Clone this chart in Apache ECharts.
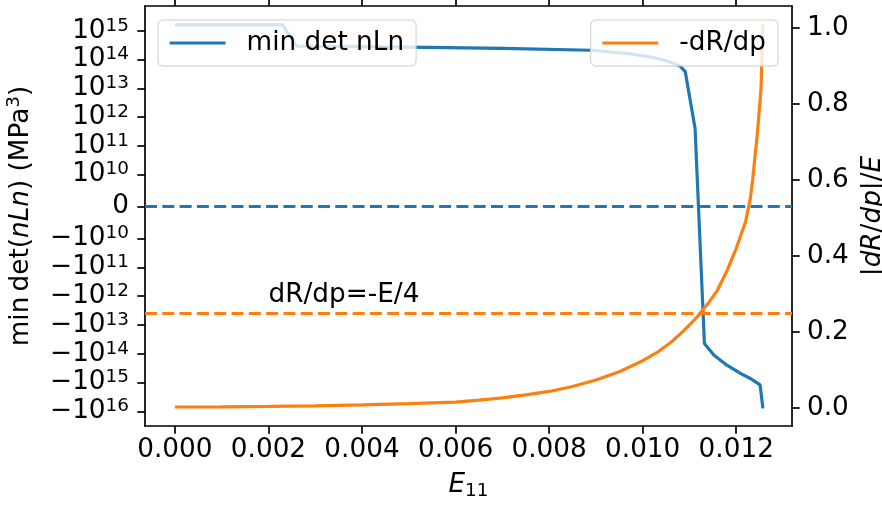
<!DOCTYPE html>
<html>
<head>
<meta charset="utf-8">
<script src="https://cdn.jsdelivr.net/npm/echarts@6/dist/echarts.min.js"></script>
<style>html,body{margin:0;padding:0;background:#fff;}#c{width:882px;height:507px;}</style>
</head>
<body>
<div id="c"></div>
<script>
// ---- data ----
const blueE = [0, 0.0023, 0.0026, 0.0050, 0.0070, 0.0089, 0.0097, 0.0102, 0.01045, 0.0108, 0.01091, 0.01112, 0.01132, 0.01152, 0.0118, 0.01209, 0.0123, 0.01251, 0.01257];
const blueVals = [1.6e15, 1.6e15, 2.9e14, 2.7e14, 2.45e14, 2.1e14, 1.6e14, 1.2e14, 9.6e13, 5.9e13, 3.8e13, 4.1e11, -4.4e13, -1.1e14, -2.5e14, -4.8e14, -7.2e14, -1.2e15, -7.9e15];
const orangeE = [0, 0.001, 0.002, 0.003, 0.004, 0.005, 0.0055, 0.006, 0.0065, 0.007, 0.0075, 0.008, 0.0085, 0.009, 0.0095, 0.010, 0.0103, 0.0106, 0.0108, 0.011, 0.0112, 0.0114, 0.0116, 0.0118, 0.012, 0.0122, 0.0123, 0.01235, 0.01245, 0.01253, 0.01257];
const orangeVals = [0.002, 0.0025, 0.0035, 0.005, 0.0075, 0.011, 0.013, 0.015, 0.020, 0.026, 0.034, 0.043, 0.056, 0.073, 0.095, 0.124, 0.145, 0.172, 0.194, 0.218, 0.244, 0.275, 0.31, 0.36, 0.42, 0.49, 0.55, 0.60, 0.72, 0.84, 1.01];
const xTicks = [0, 0.002, 0.004, 0.006, 0.008, 0.010, 0.012];
const leftTicks = [1e15, 1e14, 1e13, 1e12, 1e11, 1e10, 0, -1e10, -1e11, -1e12, -1e13, -1e14, -1e15, -1e16];
const rightTicks = [0, 0.2, 0.4, 0.6, 0.8, 1.0];
const zeroLine = 0;
const ratioLine = 0.25;
const annotText = 'dR/dp=-E/4';
const annotPos = [0.002, 0.278];
const seriesNames = ['min det nLn', '-dR/dp'];

// ---- symlog transform (linthresh 1e10, linscale 1, base 10) ----
const LT = 1e10, LSA = 1 / (1 - 1 / 10);
function T(v) {
  const a = Math.abs(v);
  if (a <= LT) return v / LT * LSA;
  return Math.sign(v) * (LSA + Math.log10(a / LT));
}
const leftTickPos = leftTicks.map(T);

const FF = 'DejaVu Sans';
const FS = 26.3, SFS = 18.4;
const BLUE = '#1f77b4', ORANGE = '#ff7f0e';
const LW = 3.2;
const DASH = [12, 5.3];
const chart = echarts.init(document.getElementById('c'), null, {renderer: 'canvas'});

const axisLineStyle = {color: '#000', width: 1.7};
const tickStyle = {show: true, inside: false, length: 7.7, lineStyle: {color: '#000', width: 1.7}};
const labelCommon = {showMinLabel: true, showMaxLabel: true, hideOverlap: false, interval: 0};
const legendCommon = {
  top: 20, itemWidth: 56, itemHeight: 14, itemGap: 0,
  padding: [10, 12, 10, 10], backgroundColor: 'rgba(255,255,255,0.8)', borderColor: '#cccccc',
  borderWidth: 1, borderRadius: 5, selectedMode: false,
  itemStyle: {opacity: 0, borderWidth: 0},
  lineStyle: {width: LW},
  textStyle: {fontSize: FS, fontFamily: FF, color: '#000', padding: [0, 0, 0, 16]}
};

const option = {
  animation: false,
  backgroundColor: '#fff',
  grid: {left: 145, right: 90, top: 6, bottom: 81, containLabel: false, outerBoundsMode: 'none'},
  xAxis: [{
    type: 'value', position: 'bottom', min: -0.000639, max: 0.013192,
    axisLine: {show: true, onZero: false, lineStyle: axisLineStyle},
    axisTick: Object.assign({customValues: xTicks}, tickStyle),
    splitLine: {show: false},
    axisLabel: Object.assign({customValues: xTicks, margin: 11, fontSize: FS, fontFamily: FF, color: '#000',
      formatter: v => v.toFixed(3)}, labelCommon),
    name: '{i|E}{s|11}', nameLocation: 'middle', nameGap: 44,
    nameTextStyle: {rich: {
      i: {fontSize: FS, fontStyle: 'italic', fontFamily: FF, color: '#000', lineHeight: 30},
      s: {fontSize: SFS, fontFamily: FF, color: '#000', verticalAlign: 'bottom', lineHeight: 22}
    }}
  }, {
    type: 'value', position: 'top', min: -0.000639, max: 0.013192,
    axisLine: {show: true, onZero: false, lineStyle: axisLineStyle},
    axisTick: Object.assign({customValues: xTicks}, tickStyle),
    axisLabel: {show: false}, splitLine: {show: false}
  }],
  yAxis: [{
    type: 'value', position: 'left', min: -7.62, max: 6.97,
    axisLine: {show: true, onZero: false, lineStyle: axisLineStyle},
    axisTick: Object.assign({customValues: leftTickPos}, tickStyle),
    splitLine: {show: false},
    axisLabel: Object.assign({customValues: leftTickPos, margin: 16, fontFamily: FF, color: '#000',
      formatter: function (t) {
        let idx = 0, best = Infinity;
        leftTickPos.forEach((p, i) => { if (Math.abs(p - t) < best) { best = Math.abs(p - t); idx = i; } });
        const v = leftTicks[idx];
        if (v === 0) return '{b|0}';
        const e = Math.round(Math.log10(Math.abs(v)));
        return (v < 0 ? '{b|\u221210}' : '{b|10}') + '{s|' + e + '}';
      },
      rich: {
        b: {fontSize: FS, fontFamily: FF, color: '#000', lineHeight: 28},
        s: {fontSize: SFS, fontFamily: FF, color: '#000', lineHeight: 18, verticalAlign: 'top'}
      }
    }, labelCommon),
    name: '{n|min\u2009det(}{i|nLn}{n|) (MPa}{s|3}{n|)}', nameLocation: 'middle', nameRotate: 90, nameGap: 107,
    nameTextStyle: {rich: {
      n: {fontSize: FS, fontFamily: FF, color: '#000', lineHeight: 33},
      i: {fontSize: FS, fontFamily: FF, fontStyle: 'italic', color: '#000', lineHeight: 33},
      s: {fontSize: SFS, fontFamily: FF, color: '#000', lineHeight: 21, verticalAlign: 'top'}
    }}
  }, {
    type: 'value', position: 'right', min: -0.048, max: 1.058,
    axisLine: {show: true, onZero: false, lineStyle: axisLineStyle},
    axisTick: Object.assign({customValues: rightTicks}, tickStyle),
    splitLine: {show: false},
    axisLabel: Object.assign({customValues: rightTicks, margin: 15, fontSize: FS, fontFamily: FF, color: '#000',
      formatter: v => v.toFixed(1)}, labelCommon),
    name: '{n||}{i|dR}{n|/}{i|dp}{n||/}{i|E}', nameLocation: 'middle', nameRotate: 90, nameGap: 63,
    nameTextStyle: {rich: {
      n: {fontSize: FS, fontFamily: FF, color: '#000'},
      i: {fontSize: FS, fontFamily: FF, fontStyle: 'italic', color: '#000'}
    }}
  }],
  legend: [
    Object.assign({data: [seriesNames[0]], left: 158}, legendCommon),
    Object.assign({data: [seriesNames[1]], right: 104}, legendCommon)
  ],
  series: [{
    name: seriesNames[0], type: 'line', xAxisIndex: 0, yAxisIndex: 0, z: 2,
    symbol: 'none', showSymbol: false, color: BLUE,
    lineStyle: {color: BLUE, width: LW},
    data: blueE.map((e, i) => [e, T(blueVals[i])]),
    markLine: {silent: true, symbol: 'none', label: {show: false},
      lineStyle: {color: BLUE, width: LW, type: DASH},
      data: [{yAxis: T(zeroLine)}]}
  }, {
    name: seriesNames[1], type: 'line', xAxisIndex: 0, yAxisIndex: 1, z: 3,
    symbol: 'none', showSymbol: false, color: ORANGE,
    lineStyle: {color: ORANGE, width: LW},
    data: orangeE.map((e, i) => [e, orangeVals[i]]),
    markLine: {silent: true, symbol: 'none', label: {show: false},
      lineStyle: {color: ORANGE, width: LW, type: DASH},
      data: [{yAxis: ratioLine}]}
  }]
};
chart.setOption(option);
const p = chart.convertToPixel({xAxisIndex: 0, yAxisIndex: 1}, annotPos);
chart.setOption({graphic: [{
  type: 'text', x: p[0], y: p[1] + 0.24 * FS, z: 10,
  style: {text: annotText, fontSize: FS, fontFamily: FF, fill: '#000', align: 'left', verticalAlign: 'bottom'}
}]});
</script>
</body>
</html>
